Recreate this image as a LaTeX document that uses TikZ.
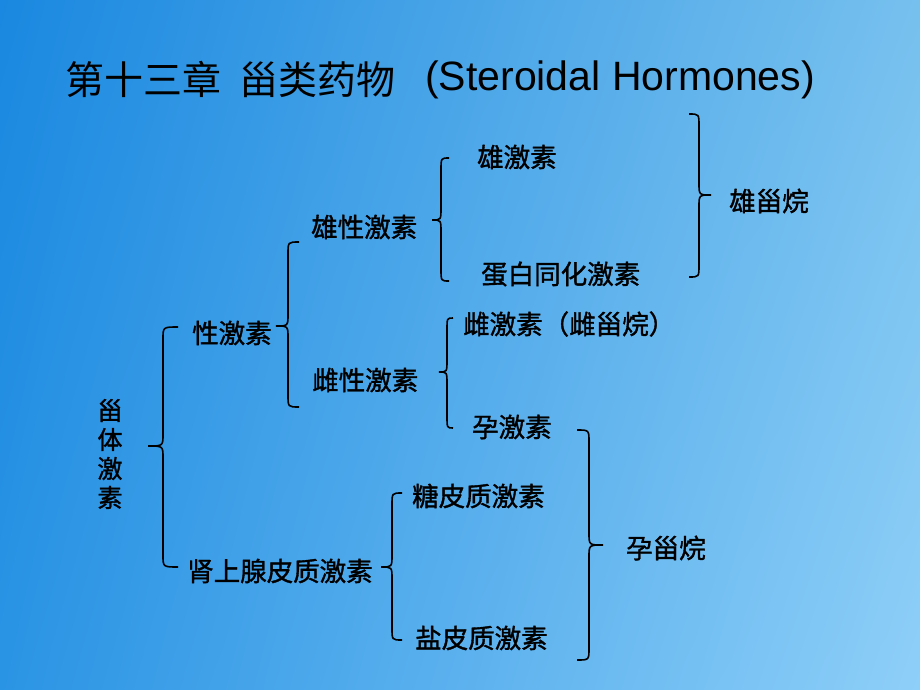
\documentclass[tikz,border=0pt]{standalone}
\usepackage{fontspec}
\usetikzlibrary{shadings}
\setmainfont{Liberation Sans}
\newfontfamily\cjk{Noto Sans CJK SC}
\newfontfamily\cjkb{Noto Sans CJK SC}[FakeBold=1.3]
\definecolor{bgTL}{RGB}{26,136,224}
\definecolor{bgTR}{RGB}{118,192,238}
\definecolor{bgBL}{RGB}{42,148,228}
\definecolor{bgBR}{RGB}{142,207,248}
% opening brace: #1 x of ends, #2 x of spine, #3 x of tip, #4 y top, #5 y tip, #6 y bottom
\newcommand\mybrace[6]{%
  \draw[bracestyle] (#1,#4) .. controls (#2,#4) .. (#2,#4+12) -- (#2,#5-12)
    .. controls (#2,#5) .. (#3,#5) .. controls (#2,#5) .. (#2,#5+12)
    -- (#2,#6-12) .. controls (#2,#6) .. (#1,#6);}
\begin{document}
\begin{tikzpicture}[x=1pt,y=-1pt,
  lbl/.style={anchor=west,inner sep=0pt,text=black,font=\cjkb\fontsize{26.5}{30}\selectfont},
  titlecjk/.style={anchor=west,inner sep=0pt,text=black,font=\cjk\fontsize{39}{44}\selectfont},
  titlelat/.style={anchor=west,inner sep=0pt,text=black,font=\fontsize{41}{46}\selectfont},
  bracestyle/.style={line width=1.6pt,black}]
\shade[upper left=bgTL, upper right=bgTR, lower left=bgBL, lower right=bgBR] (0,0) rectangle (920,690);
\useasboundingbox (0,0) rectangle (920,690);

% title
\node[titlecjk] (t1) at (65,79) {第十三章\hspace{18pt}甾类药物};
\node[titlelat] (t2) at (425,80) {(Steroidal Hormones)};

% labels
\node[anchor=center,inner sep=0pt,align=center,text=black,font=\cjkb\fontsize{25}{29}\selectfont] (root) at (110,454) {甾\\体\\激\\素};
\node[lbl] (a1) at (477,157) {雄激素};
\node[lbl] (a2) at (311,227) {雄性激素};
\node[lbl] (a3) at (481,274) {蛋白同化激素};
\node[lbl] (a4) at (729,201) {雄甾烷};
\node[lbl] (b1) at (192,333) {性激素};
\node[lbl] (b2) at (463,324) {雌激素（雌甾烷）};
\node[lbl] (b3) at (312,380) {雌性激素};
\node[lbl] (b4) at (472,427) {孕激素};
\node[lbl] (c1) at (412,496) {糖皮质激素};
\node[lbl] (c2) at (187,571) {肾上腺皮质激素};
\node[lbl] (c3) at (415,638) {盐皮质激素};
\node[lbl] (c4) at (626,548) {孕甾烷};

% opening braces
\mybrace{178}{163}{148}{327}{446}{567}
\mybrace{299}{288}{276}{242}{326}{407}
\mybrace{449}{441}{432}{158}{220}{281}
\mybrace{453}{447}{439}{318}{372}{428}
\mybrace{402}{392}{381}{493}{567}{640}
% closing braces
\mybrace{689}{699}{711}{114}{195}{277}
\mybrace{577}{589}{603}{430}{545}{660}
\end{tikzpicture}
\end{document}
